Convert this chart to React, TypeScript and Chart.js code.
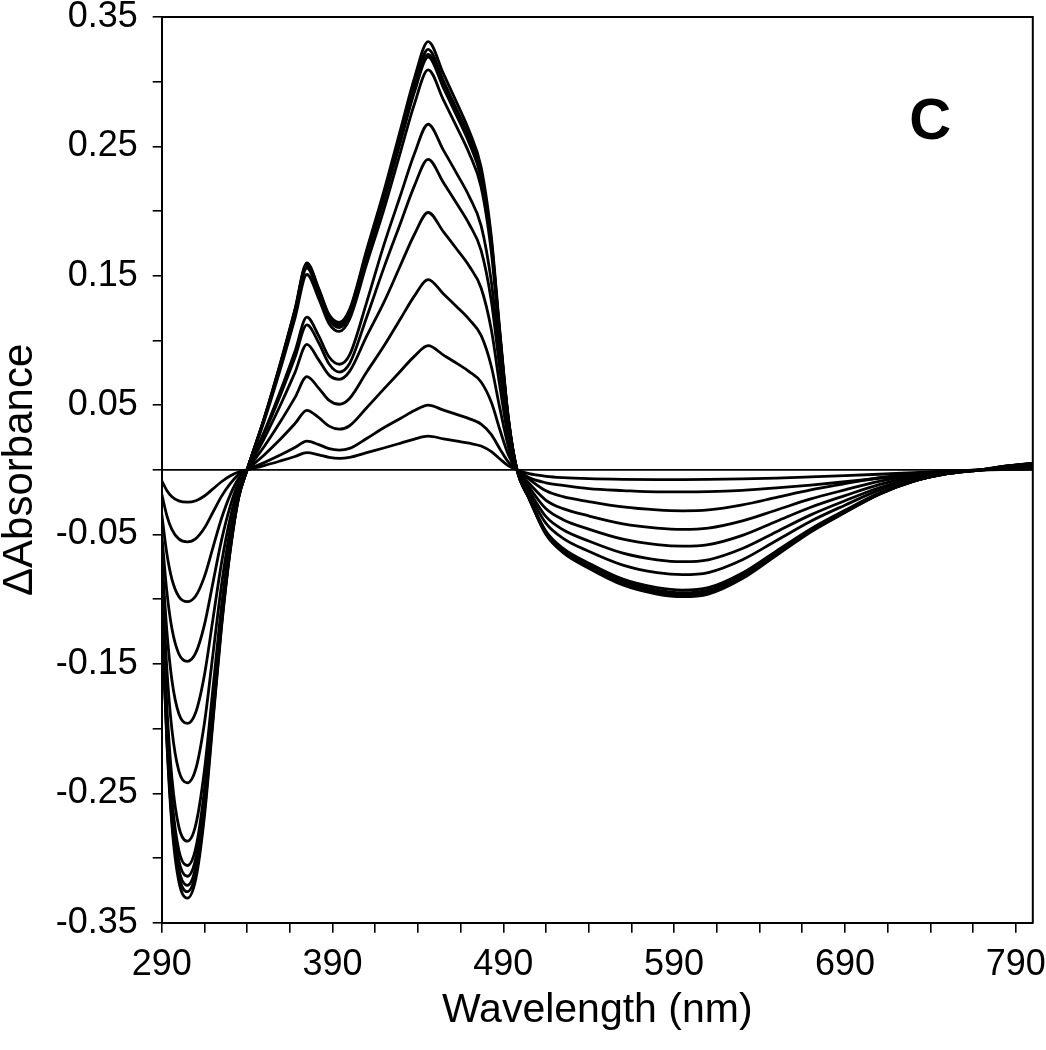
import React, { useEffect, useRef } from 'react';
import { Chart, registerables } from 'chart.js';

Chart.register(...registerables);

const WAVELENGTHS = [290, 293, 296, 300, 305, 310, 315, 320, 325, 330, 335, 340, 350, 360, 368, 375, 382, 388, 394, 400, 410, 420, 430, 438, 446, 455, 463, 470, 477, 483, 488, 493, 498, 505, 515, 525, 540, 560, 580, 595, 610, 630, 650, 670, 690, 710, 730, 750, 770, 785, 800];

const SPECTRUM_1 = [-0.0083, -0.0159, -0.0208, -0.0240, -0.0250, -0.0239, -0.0202, -0.0147, -0.0092, -0.0048, -0.0017, 0, 0.0033, 0.0071, 0.0103, 0.0133, 0.0116, 0.0097, 0.0089, 0.0097, 0.0133, 0.0169, 0.0207, 0.0238, 0.0260, 0.0240, 0.0222, 0.0206, 0.0184, 0.0141, 0.0084, 0.0031, 0, -0.0030, -0.0050, -0.0060, -0.0068, -0.0073, -0.0075, -0.0075, -0.0074, -0.0070, -0.0064, -0.0055, -0.0045, -0.0034, -0.0022, -0.0010, 0, 0.0003, 0.0005];
const SPECTRUM_2 = [-0.0185, -0.0353, -0.0462, -0.0534, -0.0556, -0.0531, -0.0450, -0.0328, -0.0205, -0.0108, -0.0037, 0, 0.0056, 0.0118, 0.0172, 0.0222, 0.0195, 0.0164, 0.0153, 0.0166, 0.0242, 0.0325, 0.0399, 0.0458, 0.0500, 0.0462, 0.0427, 0.0396, 0.0353, 0.0272, 0.0162, 0.0060, 0, -0.0060, -0.0100, -0.0120, -0.0145, -0.0160, -0.0170, -0.0170, -0.0168, -0.0158, -0.0140, -0.0118, -0.0092, -0.0065, -0.0040, -0.0017, 0, 0.0005, 0.0010];
const SPECTRUM_3 = [-0.0339, -0.0647, -0.0847, -0.0979, -0.1019, -0.0973, -0.0825, -0.0601, -0.0376, -0.0197, -0.0068, 0, 0.0115, 0.0244, 0.0357, 0.0460, 0.0403, 0.0338, 0.0314, 0.0341, 0.0480, 0.0624, 0.0766, 0.0879, 0.0960, 0.0887, 0.0821, 0.0760, 0.0679, 0.0522, 0.0310, 0.0116, 0, -0.0071, -0.0162, -0.0207, -0.0245, -0.0287, -0.0310, -0.0317, -0.0310, -0.0271, -0.0213, -0.0155, -0.0107, -0.0061, -0.0029, -0.0010, 0, 0.0010, 0.0016];
const SPECTRUM_4 = [-0.0492, -0.0939, -0.1229, -0.1421, -0.1480, -0.1413, -0.1198, -0.0872, -0.0545, -0.0286, -0.0098, 0, 0.0180, 0.0383, 0.0558, 0.0720, 0.0630, 0.0537, 0.0507, 0.0552, 0.0756, 0.0955, 0.1172, 0.1345, 0.1470, 0.1359, 0.1257, 0.1163, 0.1039, 0.0799, 0.0475, 0.0178, 0, -0.0103, -0.0235, -0.0300, -0.0356, -0.0417, -0.0450, -0.0460, -0.0450, -0.0394, -0.0310, -0.0225, -0.0155, -0.0089, -0.0042, -0.0014, 0, 0.0014, 0.0023];
const SPECTRUM_5 = [-0.0651, -0.1243, -0.1628, -0.1883, -0.1960, -0.1871, -0.1587, -0.1154, -0.0722, -0.0379, -0.0130, 0, 0.0242, 0.0515, 0.0751, 0.0970, 0.0848, 0.0732, 0.0700, 0.0761, 0.1033, 0.1292, 0.1587, 0.1821, 0.1989, 0.1839, 0.1701, 0.1575, 0.1406, 0.1082, 0.0643, 0.0240, 0, -0.0132, -0.0301, -0.0385, -0.0458, -0.0536, -0.0578, -0.0590, -0.0578, -0.0506, -0.0397, -0.0289, -0.0199, -0.0114, -0.0054, -0.0018, 0, 0.0018, 0.0030];
const SPECTRUM_6 = [-0.0804, -0.1535, -0.2010, -0.2325, -0.2420, -0.2310, -0.1959, -0.1425, -0.0892, -0.0468, -0.0161, 0, 0.0280, 0.0595, 0.0868, 0.1120, 0.0980, 0.0818, 0.0756, 0.0822, 0.1180, 0.1559, 0.1914, 0.2197, 0.2400, 0.2219, 0.2052, 0.1900, 0.1697, 0.1305, 0.0776, 0.0290, 0, -0.0159, -0.0362, -0.0463, -0.0550, -0.0644, -0.0695, -0.0710, -0.0695, -0.0608, -0.0478, -0.0348, -0.0239, -0.0138, -0.0065, -0.0022, 0, 0.0022, 0.0036];
const SPECTRUM_7 = [-0.0954, -0.1821, -0.2384, -0.2757, -0.2870, -0.2740, -0.2324, -0.1691, -0.1058, -0.0555, -0.0191, 0, 0.0295, 0.0627, 0.0915, 0.1180, 0.1033, 0.0872, 0.0816, 0.0888, 0.1295, 0.1735, 0.2130, 0.2445, 0.2671, 0.2469, 0.2284, 0.2114, 0.1888, 0.1453, 0.0863, 0.0323, 0, -0.0182, -0.0414, -0.0529, -0.0629, -0.0736, -0.0794, -0.0810, -0.0794, -0.0695, -0.0546, -0.0397, -0.0273, -0.0157, -0.0074, -0.0025, 0, 0.0025, 0.0041];
const SPECTRUM_8 = [-0.1016, -0.1940, -0.2541, -0.2938, -0.3058, -0.2920, -0.2476, -0.1802, -0.1127, -0.0591, -0.0203, 0, 0.0378, 0.0802, 0.1171, 0.1510, 0.1322, 0.1130, 0.1070, 0.1164, 0.1592, 0.2008, 0.2466, 0.2830, 0.3092, 0.2858, 0.2643, 0.2447, 0.2186, 0.1681, 0.0999, 0.0374, 0, -0.0209, -0.0475, -0.0607, -0.0721, -0.0845, -0.0911, -0.0930, -0.0911, -0.0797, -0.0626, -0.0456, -0.0313, -0.0180, -0.0085, -0.0028, 0, 0.0028, 0.0047];
const SPECTRUM_9 = [-0.1044, -0.1993, -0.2610, -0.3018, -0.3141, -0.2999, -0.2543, -0.1851, -0.1158, -0.0607, -0.0209, 0, 0.0390, 0.0829, 0.1209, 0.1560, 0.1365, 0.1164, 0.1100, 0.1197, 0.1640, 0.2073, 0.2545, 0.2921, 0.3191, 0.2950, 0.2728, 0.2526, 0.2256, 0.1735, 0.1031, 0.0386, 0, -0.0213, -0.0485, -0.0620, -0.0736, -0.0862, -0.0930, -0.0950, -0.0930, -0.0814, -0.0640, -0.0465, -0.0320, -0.0184, -0.0087, -0.0029, 0, 0.0029, 0.0048];
const SPECTRUM_10 = [-0.1067, -0.2037, -0.2668, -0.3085, -0.3211, -0.3065, -0.2600, -0.1892, -0.1183, -0.0621, -0.0213, 0, 0.0395, 0.0840, 0.1225, 0.1581, 0.1383, 0.1182, 0.1119, 0.1218, 0.1659, 0.2086, 0.2561, 0.2939, 0.3211, 0.2968, 0.2745, 0.2541, 0.2270, 0.1746, 0.1038, 0.0388, 0, -0.0216, -0.0490, -0.0627, -0.0745, -0.0872, -0.0941, -0.0960, -0.0941, -0.0823, -0.0647, -0.0470, -0.0323, -0.0186, -0.0088, -0.0029, 0, 0.0029, 0.0049];
const SPECTRUM_11 = [-0.1084, -0.2069, -0.2709, -0.3132, -0.3260, -0.3113, -0.2640, -0.1921, -0.1202, -0.0630, -0.0217, 0, 0.0398, 0.0845, 0.1233, 0.1590, 0.1392, 0.1191, 0.1130, 0.1229, 0.1677, 0.2111, 0.2592, 0.2975, 0.3250, 0.3005, 0.2779, 0.2573, 0.2298, 0.1768, 0.1051, 0.0393, 0, -0.0218, -0.0495, -0.0634, -0.0752, -0.0881, -0.0950, -0.0970, -0.0950, -0.0832, -0.0653, -0.0475, -0.0327, -0.0188, -0.0089, -0.0030, 0, 0.0030, 0.0050];
const SPECTRUM_12 = [-0.110, -0.210, -0.275, -0.318, -0.331, -0.316, -0.268, -0.195, -0.122, -0.064, -0.022, 0, 0.040, 0.085, 0.124, 0.160, 0.140, 0.120, 0.114, 0.124, 0.170, 0.215, 0.264, 0.303, 0.331, 0.306, 0.283, 0.262, 0.234, 0.180, 0.107, 0.040, 0, -0.022, -0.050, -0.064, -0.076, -0.089, -0.096, -0.098, -0.096, -0.084, -0.066, -0.048, -0.033, -0.019, -0.009, -0.003, 0, 0.003, 0.005];

const SPECTRA = [SPECTRUM_1, SPECTRUM_2, SPECTRUM_3, SPECTRUM_4, SPECTRUM_5, SPECTRUM_6, SPECTRUM_7, SPECTRUM_8, SPECTRUM_9, SPECTRUM_10, SPECTRUM_11, SPECTRUM_12];

const BASELINE_X = [290, 800];
const BASELINE_Y = [0, 0];

const X_TICKS = [290, 315, 340, 365, 390, 415, 440, 465, 490, 515, 540, 565, 590, 615, 640, 665, 690, 715, 740, 765, 790];
const X_TICK_LABELS = ['290', '', '', '', '390', '', '', '', '490', '', '', '', '590', '', '', '', '690', '', '', '', '790'];
const Y_TICKS = [-0.35, -0.3, -0.25, -0.2, -0.15, -0.1, -0.05, 0, 0.05, 0.1, 0.15, 0.2, 0.25, 0.3, 0.35];
const Y_TICK_LABELS = ['-0.35', '', '-0.25', '', '-0.15', '', '-0.05', '', '0.05', '', '0.15', '', '0.25', '', '0.35'];

const PANEL_LABEL = 'C';
const X_TITLE = 'Wavelength (nm)';
const Y_TITLE = '\u0394Absorbance';

const FONT = "'Liberation Sans', Arial, Helvetica, sans-serif";

function zeroPadding(s: any) {
  s.paddingTop = 0;
  s.paddingBottom = 0;
  s.paddingLeft = 0;
  s.paddingRight = 0;
}

export default function App() {
  const canvasRef = useRef<HTMLCanvasElement | null>(null);

  useEffect(() => {
    const canvas = canvasRef.current;
    if (!canvas) return;

    const datasets: any[] = SPECTRA.map((s, i) => ({
      label: 'spectrum ' + (i + 1),
      data: WAVELENGTHS.map((w, j) => ({ x: w, y: s[j] })),
      borderColor: '#000',
      borderWidth: 2.8,
      pointRadius: 0,
      fill: false,
      cubicInterpolationMode: 'monotone',
    }));
    datasets.push({
      label: 'baseline',
      data: BASELINE_X.map((x, i) => ({ x, y: BASELINE_Y[i] })),
      borderColor: '#000',
      borderWidth: 1.6,
      pointRadius: 0,
      fill: false,
    });

    const framePlugin = {
      id: 'frame',
      afterDatasetsDraw(chart: any) {
        const { ctx, chartArea, scales } = chart;
        ctx.save();
        ctx.strokeStyle = '#000';
        ctx.lineWidth = 2;
        ctx.beginPath();
        ctx.moveTo(chartArea.left, chartArea.top);
        ctx.lineTo(chartArea.right, chartArea.top);
        ctx.lineTo(chartArea.right, chartArea.bottom);
        ctx.stroke();
        ctx.fillStyle = '#000';
        ctx.font = 'bold 58px ' + FONT;
        ctx.textAlign = 'center';
        ctx.textBaseline = 'middle';
        ctx.fillText(PANEL_LABEL, scales.x.getPixelForValue(740), scales.y.getPixelForValue(0.268));
        ctx.restore();
      },
    };

    const chart = new Chart(canvas, {
      type: 'line',
      data: { datasets },
      plugins: [framePlugin],
      options: {
        animation: false,
        responsive: false,
        devicePixelRatio: 1,
        layout: { padding: { left: 0, top: 17, right: 13.2, bottom: 0 } },
        plugins: { legend: { display: false }, tooltip: { enabled: false } },
        scales: {
          x: {
            type: 'linear',
            min: 290,
            max: 800,
            afterFit: (s: any) => { s.height = 127.3; zeroPadding(s); },
            afterBuildTicks: (s: any) => { s.ticks = X_TICKS.map((v) => ({ value: v })); },
            ticks: {
              autoSkip: false,
              maxRotation: 0,
              padding: 11,
              color: '#000',
              font: { family: FONT, size: 36 },
              callback: (v: any) => {
                const i = X_TICKS.indexOf(Number(v));
                return i >= 0 ? X_TICK_LABELS[i] : '';
              },
            },
            grid: { drawOnChartArea: false, drawTicks: true, tickLength: 10, color: '#000', lineWidth: 1.6 },
            border: { display: true, color: '#000', width: 2 },
            title: {
              display: true,
              text: X_TITLE,
              color: '#000',
              font: { family: FONT, size: 41, lineHeight: 1 },
              padding: { top: 0, bottom: 19 },
            },
          },
          y: {
            type: 'linear',
            min: -0.35,
            max: 0.35,
            afterFit: (s: any) => { s.width = 161.7; zeroPadding(s); },
            afterBuildTicks: (s: any) => { s.ticks = Y_TICKS.map((v) => ({ value: v })); },
            ticks: {
              autoSkip: false,
              padding: 15,
              color: '#000',
              font: { family: FONT, size: 36 },
              callback: (v: any) => {
                const i = Y_TICKS.findIndex((t) => Math.abs(t - Number(v)) < 1e-9);
                return i >= 0 ? Y_TICK_LABELS[i] : '';
              },
            },
            grid: { drawOnChartArea: false, drawTicks: true, tickLength: 9, color: '#000', lineWidth: 1.6 },
            border: { display: true, color: '#000', width: 2 },
            title: {
              display: true,
              text: Y_TITLE,
              color: '#000',
              font: { family: FONT, size: 42, lineHeight: 1 },
              padding: { top: -1, bottom: 0 },
            },
          },
        },
      },
    });

    return () => chart.destroy();
  }, []);

  return (
    <div style={{ position: 'fixed', left: 0, top: 0, width: 1046, height: 1050, background: '#fff' }}>
      <canvas ref={canvasRef} width={1046} height={1050} style={{ display: 'block', width: 1046, height: 1050 }} />
    </div>
  );
}
